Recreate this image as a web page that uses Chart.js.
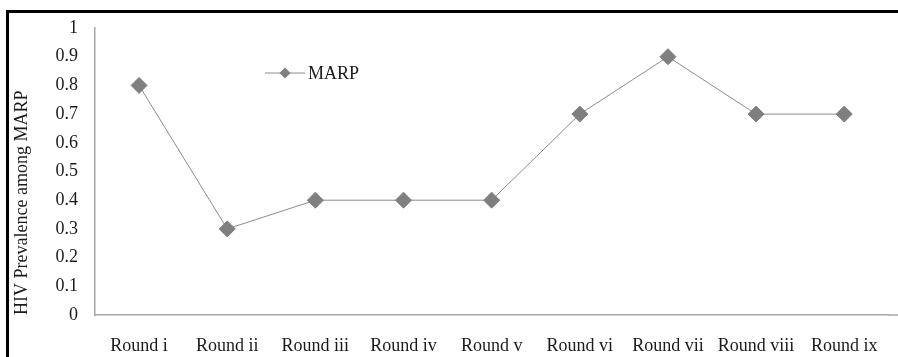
<!DOCTYPE html>
<html>
<head>
<meta charset="utf-8">
<script src="https://cdn.jsdelivr.net/npm/chart.js@4.4.1/dist/chart.umd.min.js"></script>
<style>
  html, body { margin: 0; padding: 0; background: #ffffff; overflow: hidden; }
  #wrap { position: relative; width: 898px; height: 357px; }
  canvas { display: block; }
</style>
</head>
<body>
<div id="wrap"><canvas id="c" width="898" height="357"></canvas></div>
<script>
const categories = ["Round i", "Round ii", "Round iii", "Round iv", "Round v", "Round vi", "Round vii", "Round viii", "Round ix"];
const marpValues = [0.8, 0.3, 0.4, 0.4, 0.4, 0.7, 0.9, 0.7, 0.7];
const seriesName = "MARP";
const yTitle = "HIV Prevalence among MARP";

const FONT = "'Liberation Serif', 'Times New Roman', serif";
const TEXT = "#1a1a1a";
const MARK = "#7f7f7f";
const LINE = "#8c8c8c";
const AXIS = "#a6a6a6";

const frameAndLegend = {
  id: 'frameAndLegend',
  beforeDraw(chart) {
    const ctx = chart.ctx;
    ctx.save();
    ctx.fillStyle = '#ffffff';
    ctx.fillRect(0, 0, chart.width, chart.height);
    ctx.restore();
  },
  afterDraw(chart) {
    const ctx = chart.ctx;
    const a = chart.chartArea;
    ctx.save();
    // outer frame (top & left)
    ctx.strokeStyle = '#000000';
    ctx.lineWidth = 3;
    ctx.beginPath();
    ctx.moveTo(chart.width, 11.5);
    ctx.lineTo(7.5, 11.5);
    ctx.lineTo(7.5, chart.height);
    ctx.stroke();
    // extend x axis line to right edge
    ctx.strokeStyle = AXIS;
    ctx.lineWidth = 1.5;
    ctx.beginPath();
    ctx.moveTo(a.right, a.bottom);
    ctx.lineTo(chart.width, a.bottom);
    ctx.stroke();
    // legend inside plot
    const lx = a.left + 170, ly = a.top + 45;
    ctx.strokeStyle = LINE;
    ctx.lineWidth = 1;
    ctx.beginPath();
    ctx.moveTo(lx, ly);
    ctx.lineTo(lx + 40, ly);
    ctx.stroke();
    ctx.fillStyle = MARK;
    ctx.beginPath();
    ctx.moveTo(lx + 20, ly - 5.5);
    ctx.lineTo(lx + 25.5, ly);
    ctx.lineTo(lx + 20, ly + 5.5);
    ctx.lineTo(lx + 14.5, ly);
    ctx.closePath();
    ctx.fill();
    ctx.fillStyle = TEXT;
    ctx.font = "18px " + FONT;
    ctx.textBaseline = 'middle';
    ctx.textAlign = 'left';
    ctx.fillText(seriesName, lx + 43, ly + 1);
    ctx.restore();
  }
};

new Chart(document.getElementById('c'), {
  type: 'line',
  data: {
    labels: categories,
    datasets: [{
      label: seriesName,
      data: marpValues,
      borderColor: LINE,
      borderWidth: 1,
      backgroundColor: MARK,
      pointStyle: 'rectRot',
      pointRadius: 8,
      pointHoverRadius: 8,
      pointBackgroundColor: MARK,
      pointBorderColor: MARK,
      pointBorderWidth: 1,
      tension: 0,
      fill: false
    }]
  },
  options: {
    responsive: false,
    animation: false,
    events: [],
    layout: { padding: { left: 0, top: 28, right: 9, bottom: 0 } },
    plugins: {
      legend: { display: false },
      tooltip: { enabled: false }
    },
    scales: {
      x: {
        type: 'category',
        offset: true,
        grid: { display: false, drawTicks: false },
        border: { display: true, color: AXIS, width: 1.5 },
        ticks: { color: TEXT, font: { family: FONT, size: 18 }, padding: 20, maxRotation: 0, autoSkip: false },
        afterFit(scale) { scale.height = 42; }
      },
      y: {
        min: 0,
        max: 1,
        grid: { display: false, drawTicks: false },
        border: { display: true, color: AXIS, width: 1.5 },
        ticks: {
          stepSize: 0.1,
          color: TEXT,
          font: { family: FONT, size: 18 },
          padding: 17,
          callback: (v) => Math.round(v * 10) / 10
        },
        title: {
          display: true,
          text: yTitle,
          align: 'start',
          color: TEXT,
          font: { family: FONT, size: 18 },
          padding: { top: 11, bottom: 0 }
        },
        afterFit(scale) { scale.width = 95; }
      }
    }
  },
  plugins: [frameAndLegend]
});
</script>
</body>
</html>
